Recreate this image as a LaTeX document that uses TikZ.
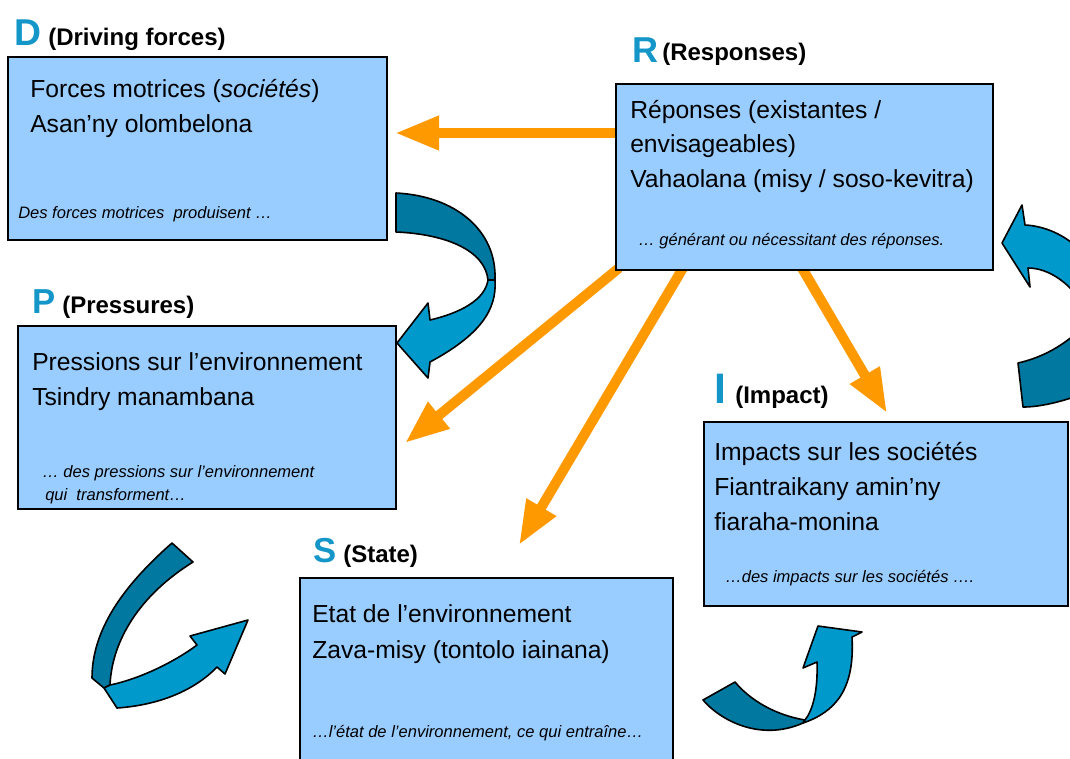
\documentclass[tikz,border=0pt]{standalone}
\usepackage{fontspec}
\setmainfont{Liberation Sans}
\usetikzlibrary{arrows.meta,calc}
\definecolor{boxblue}{RGB}{153,204,255}
\definecolor{letterblue}{RGB}{20,150,200}
\definecolor{arroworange}{RGB}{255,153,0}
\definecolor{ribbondark}{RGB}{0,120,160}
\definecolor{ribbonlight}{RGB}{0,153,204}
\pgfdeclarelayer{background}
\pgfdeclarelayer{canvas}
\pgfsetlayers{canvas,background,main}
\begin{document}
\begin{tikzpicture}[x=0.75pt,y=-0.75pt,
  box/.style={draw=black, line width=1.2pt, fill=boxblue, inner sep=0pt, outer sep=0pt, anchor=north west},
  maintext/.style={anchor=base west, inner sep=0pt, font=\fontsize{18.5pt}{22pt}\selectfont},
  notetext/.style={anchor=base west, inner sep=0pt, font=\fontsize{12.4pt}{15pt}\selectfont\itshape},
  labeltext/.style={anchor=base west, inner sep=0pt, font=\fontsize{18pt}{20pt}\selectfont\bfseries},
  bigletter/.style={anchor=base west, inner sep=0pt, text=letterblue},
  flow/.style={draw=arroworange, line width=7.5pt, -{Triangle[length=33pt,width=24pt]}},
  ribbon/.style={draw=black, line width=1.2pt, line join=round}
]
\useasboundingbox (0,0) rectangle (1070,758);
\begin{pgfonlayer}{canvas}
\fill[white] (0,0) rectangle (1070,758);
\end{pgfonlayer}

% ---------- boxes ----------
\node[box, minimum width=284.25pt, minimum height=137.25pt] (D) at (8,57) {};
\node[box, minimum width=282.75pt, minimum height=139.5pt] (R) at (616,84) {};
\node[box, minimum width=283.5pt, minimum height=137.25pt] (P) at (18,326) {};
\node[box, minimum width=273pt, minimum height=138pt] (I) at (704,422) {};
\node[box, minimum width=279.75pt, minimum height=144pt] (S) at (300,578) {};

% ---------- headings ----------
\node[bigletter, font=\fontsize{28pt}{30pt}\selectfont\bfseries] (Dl) at (14,45) {D};
\node[labeltext] (Dt) at (48,45) {(Driving forces)};
\node[bigletter, font=\fontsize{27pt}{29pt}\selectfont\bfseries] (Rl) at (632,62) {R};
\node[labeltext] (Rt) at (662,60) {(Responses)};
\node[bigletter, font=\fontsize{26pt}{28pt}\selectfont\bfseries] (Pl) at (32,313) {P};
\node[labeltext] (Pt) at (62,313) {(Pressures)};
\node[bigletter, font=\fontsize{32pt}{34pt}\selectfont\bfseries] (Il) at (714,403) {I};
\node[labeltext] (It) at (735,403) {(Impact)};
\node[bigletter, font=\fontsize{26pt}{28pt}\selectfont\bfseries] (Sl) at (313,562) {S};
\node[labeltext] (St) at (343,562) {(State)};

% ---------- box texts ----------
\node[maintext] (D1) at (30,97) {Forces motrices (\textit{sociétés})};
\node[maintext] (D2) at (30,132) {Asan’ny olombelona};
\node[notetext] (D3) at (18,218) {Des forces motrices~~produisent …};

\node[maintext] (R1) at (630,118) {Réponses (existantes /};
\node[maintext] (R2) at (630,152) {envisageables)};
\node[maintext] (R3) at (630,187) {Vahaolana (misy / soso-kevitra)};
\node[notetext] (R4) at (638,245) {… générant ou nécessitant des réponses.};

\node[maintext] (P1) at (32,370) {Pressions sur l’environnement};
\node[maintext] (P2) at (32,405) {Tsindry manambana};
\node[notetext] (P3) at (42,477) {… des pressions sur l’environnement};
\node[notetext] (P4) at (45,500) {qui~~transforment…};

\node[maintext] (I1) at (714,460) {Impacts sur les sociétés};
\node[maintext] (I2) at (714,495) {Fiantraikany amin’ny};
\node[maintext] (I3) at (714,530) {fiaraha-monina};
\node[notetext] (I4) at (725,582) {…des impacts sur les sociétés ….};

\node[maintext] (S1) at (312,622) {Etat de l’environnement};
\node[maintext] (S2) at (312,658) {Zava-misy (tontolo iainana)};
\node[notetext] (S3) at (312,737) {…l’état de l’environnement, ce qui entraîne…};

% ---------- orange arrows (behind boxes) ----------
\coordinate (tipD) at (395,133);
\coordinate (tipP) at (405,443);
\coordinate (tipS) at (519,545);
\coordinate (tipI) at (887,413);
\begin{pgfonlayer}{background}
\draw[flow] (R.west |- tipD) -- (tipD);
\draw[flow] ($(R.south west)+(3,-2)$) -- (tipP);
\draw[flow] ($(R.south west)+(67,-2)$) -- (tipS);
\draw[flow] ($(R.south west)+(186,-2)$) -- (tipI);
\end{pgfonlayer}

% ---------- blue ribbon arrows ----------
% D -> P
\filldraw[ribbon, fill=ribbondark] (396,193) .. controls (455,196) and (497,230) .. (495,280)
  -- (488,280) .. controls (485,250) and (445,234) .. (396,232) -- cycle;
\filldraw[ribbon, fill=ribbonlight] (495,280) .. controls (497,310) and (480,335) .. (430,362)
  -- (428,378) -- (397,343) -- (428,303) -- (430,320)
  .. controls (460,313) and (485,300) .. (488,280) -- cycle;
% P -> S
\filldraw[ribbon, fill=ribbondark] (172,543) .. controls (130,580) and (92,625) .. (92,678)
  -- (104,688) -- (110,685) .. controls (112,640) and (140,595) .. (193,562) -- cycle;
\filldraw[ribbon, fill=ribbonlight] (104,688) -- (117,708) .. controls (160,705) and (195,690) .. (217,667)
  -- (225,674) -- (248,620) -- (190,636) -- (197,645)
  .. controls (170,665) and (135,680) .. (110,685) -- cycle;
% S -> I
\filldraw[ribbon, fill=ribbondark] (703,700) .. controls (720,720) and (760,742) .. (803,723)
  -- (805,720) .. controls (775,715) and (750,700) .. (735,682) -- cycle;
\filldraw[ribbon, fill=ribbonlight] (803,723) .. controls (835,712) and (855,690) .. (852,637)
  -- (862,632) -- (818,626) -- (803,668) -- (817,662)
  .. controls (818,690) and (813,710) .. (805,720) -- cycle;
% I -> R
\filldraw[ribbon, fill=ribbonlight] (1002,243) -- (1022,205) -- (1025,225)
  .. controls (1045,226) and (1065,235) .. (1080,250) -- (1080,300)
  .. controls (1070,285) and (1050,268) .. (1028,268) -- (1030,287) -- cycle;
\filldraw[ribbon, fill=ribbondark] (1018,363) .. controls (1040,358) and (1060,348) .. (1080,330)
  -- (1080,395) .. controls (1060,402) and (1040,407) .. (1023,407) -- cycle;
\end{tikzpicture}
\end{document}
